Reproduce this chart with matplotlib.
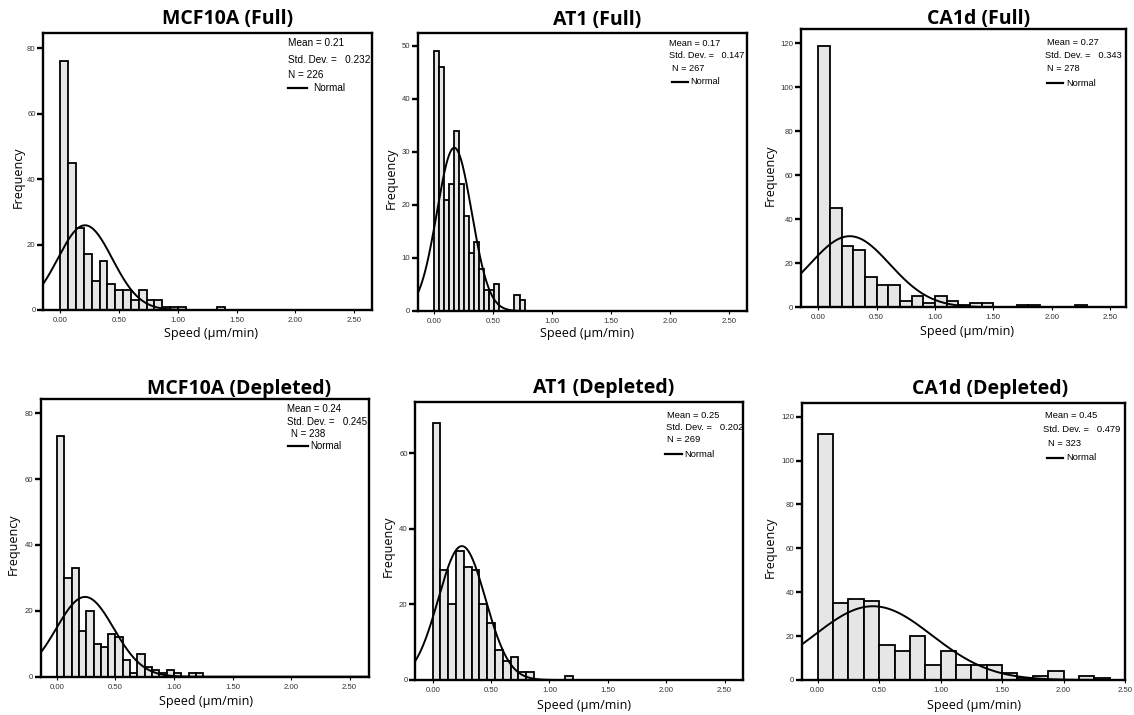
import numpy as np
import matplotlib
matplotlib.use("Agg")
import matplotlib.pyplot as plt
from matplotlib import font_manager
from matplotlib.lines import Line2D

# ---------------- data ----------------
titles = ["MCF10A (Full)", "AT1 (Full)", "CA1d (Full)",
          "MCF10A (Depleted)", "AT1 (Depleted)", "CA1d (Depleted)"]

mcf_full_counts = [76, 45, 25, 17, 9, 15, 8, 6, 6, 3, 6, 3, 3, 1, 1, 1, 0, 0, 0, 0, 1]
at1_full_counts = [49, 46, 21, 24, 34, 24, 18, 11, 13, 8, 4, 4, 5, 0, 0, 0, 3, 2]
ca1d_full_counts = [119, 45, 28, 26, 14, 10, 10, 3, 5, 2, 5, 3, 1, 2, 2, 0, 0, 1, 1, 0, 0, 0, 1]
mcf_dep_counts = [73, 30, 33, 14, 20, 10, 9, 13, 12, 5, 1, 7, 3, 2, 1, 2, 1, 0, 1, 1]
at1_dep_counts = [68, 29, 20, 34, 30, 29, 20, 15, 8, 5, 6, 2, 2, 0, 0, 0, 0, 1]
ca1d_dep_counts = [112, 35, 37, 36, 16, 13, 20, 7, 13, 7, 7, 7, 3, 1, 2, 4, 0, 2, 1]

bin_widths = [1 / 15, 0.0425, 0.1, 0.0625, 1 / 15, 0.125]

means = [0.21, 0.17, 0.27, 0.24, 0.25, 0.45]
sds = [0.232, 0.147, 0.343, 0.245, 0.202, 0.479]
ns = [226, 267, 278, 238, 269, 323]
mean_labels = ["0.21", "0.17", "0.27", "0.24", "0.25", "0.45"]
sd_labels = ["0.232", "0.147", "0.343", "0.245", "0.202", "0.479"]

x_ticks = [0.0, 0.5, 1.0, 1.5, 2.0, 2.5]
y_tick_sets = [[0, 20, 40, 60, 80], [0, 10, 20, 30, 40, 50], [0, 20, 40, 60, 80, 100, 120],
               [0, 20, 40, 60, 80], [0, 20, 40, 60], [0, 20, 40, 60, 80, 100, 120]]

counts_all = [mcf_full_counts, at1_full_counts, ca1d_full_counts,
              mcf_dep_counts, at1_dep_counts, ca1d_dep_counts]

# ---------------- layout (pixels) ----------------
W, H = 1134, 715
axes_px = [(43.3, 32.7, 371.7, 310), (417.7, 32.7, 746.7, 311), (801, 29.3, 1126, 307.3),
           (40.7, 399, 369.3, 676.7), (415.3, 401.7, 743.3, 680), (801.7, 402.7, 1125, 680)]
xlims = [(-0.145, 2.65), (-0.14, 2.647), (-0.148, 2.637),
         (-0.139, 2.669), (-0.149, 2.66), (-0.13, 2.5)]
ylims_top = [84.8, 52.5, 126.4, 84.3, 73.6, 126.4]
title_pos = [(228, 24), (596.7, 25), (979, 24), (239, 394.3), (604, 393.3), (990.5, 394.3)]
xlabel_pos = [(211, 334), (586.7, 333), (966.5, 331.7), (205.8, 701.7), (584, 705), (974, 705)]
ylabel_pos = [(18, 177), (391, 178), (770, 175), (13.5, 544.5), (388, 546.5), (770, 547)]
stat_x = [(288, 288, 288), (669.3, 669.3, 671.7), (1046.7, 1045, 1046.7),
          (287.3, 287.3, 290.7), (667.3, 665.7, 667.3), (1045, 1043.3, 1047.7)]
stat_y = [(43, 60, 75), (43.3, 55, 68.3), (42.7, 56, 68.3),
          (409, 421.7, 434), (415, 427.7, 440), (415.7, 429, 443.3)]
leg_line = [(288, 307, 88, 313), (671.7, 688.3, 81.7, 690.7), (1046.7, 1063.3, 83.3, 1066),
            (288.3, 308.3, 445.7, 310.7), (665, 681.7, 454.3, 684), (1046.7, 1063.3, 457.7, 1066)]
stat_sizes = [8.8, 8.0, 8.1, 8.6, 8.2, 8.2]

names = {f.name for f in font_manager.fontManager.ttflist}
if "Liberation Sans Narrow" in names:
    narrow, nscale = "Liberation Sans Narrow", 1.0
else:
    narrow, nscale = "Liberation Sans", 0.82
label_font = "Open Sans" if "Open Sans" in names else "DejaVu Sans"


def fx(px):
    return px / W


def fy(py):
    return 1 - py / H


fig = plt.figure(figsize=(W / 100, H / 100), dpi=100)
fig.patch.set_facecolor("white")

for i in range(6):
    l, t, r, b = axes_px[i]
    ax = fig.add_axes([fx(l), fy(b), (r - l) / W, (b - t) / H])
    counts = np.array(counts_all[i])
    w = bin_widths[i]
    edges = np.arange(len(counts)) * w
    ax.bar(edges, counts, width=w, align="edge", color="#e6e6e6",
           edgecolor="black", linewidth=1.3, zorder=2)
    xs = np.linspace(xlims[i][0], xlims[i][1], 500)
    ys = ns[i] * w * np.exp(-0.5 * ((xs - means[i]) / sds[i]) ** 2) / (sds[i] * np.sqrt(2 * np.pi))
    ax.plot(xs, ys, color="black", linewidth=1.4, zorder=3)
    ax.set_xlim(*xlims[i])
    ax.set_ylim(0, ylims_top[i])
    ax.set_xticks(x_ticks)
    ax.set_xticklabels([f"{v:.2f}" for v in x_ticks])
    ax.set_yticks(y_tick_sets[i])
    ax.set_yticklabels([str(v) for v in y_tick_sets[i]])
    for s in ax.spines.values():
        s.set_linewidth(1.7)
        s.set_color("black")
        s.set_zorder(4)
    ax.tick_params(axis="y", direction="out", length=4, width=1.7, pad=1.5,
                   labelsize=6.8 * nscale, labelcolor="#333333")
    ax.tick_params(axis="x", direction="out", length=2, width=0.8, pad=3,
                   labelsize=6.8 * nscale, labelcolor="#333333")
    for lab in ax.get_xticklabels() + ax.get_yticklabels():
        lab.set_family(narrow)

    # titles and labels
    tx, ty = title_pos[i]
    fig.text(fx(tx), fy(ty), titles[i], ha="center", va="baseline",
             fontsize=14, fontweight="bold", family=label_font)
    lx, ly = xlabel_pos[i]
    fig.text(fx(lx), fy(ly), "Speed (\u03bcm/min)", ha="center", va="center",
             fontsize=9, family=label_font)
    yx, yy = ylabel_pos[i]
    fig.text(fx(yx), fy(yy), "Frequency", ha="center", va="center", rotation=90,
             fontsize=9, family=label_font)

    # stats box
    fs = stat_sizes[i] * nscale
    lines = [f"Mean = {mean_labels[i]}", f"Std. Dev. =   {sd_labels[i]}", f"N = {ns[i]}"]
    for k in range(3):
        fig.text(fx(stat_x[i][k]), fy(stat_y[i][k]), lines[k], ha="left", va="center",
                 fontsize=fs, family=narrow)
    x0, x1, yl, xt = leg_line[i]
    fig.add_artist(Line2D([fx(x0), fx(x1)], [fy(yl), fy(yl)], color="black",
                          linewidth=1.6, transform=fig.transFigure))
    fig.text(fx(xt), fy(yl), "Normal", ha="left", va="center", fontsize=fs, family=narrow)

fig.savefig("out.png", dpi=100, facecolor="white")
